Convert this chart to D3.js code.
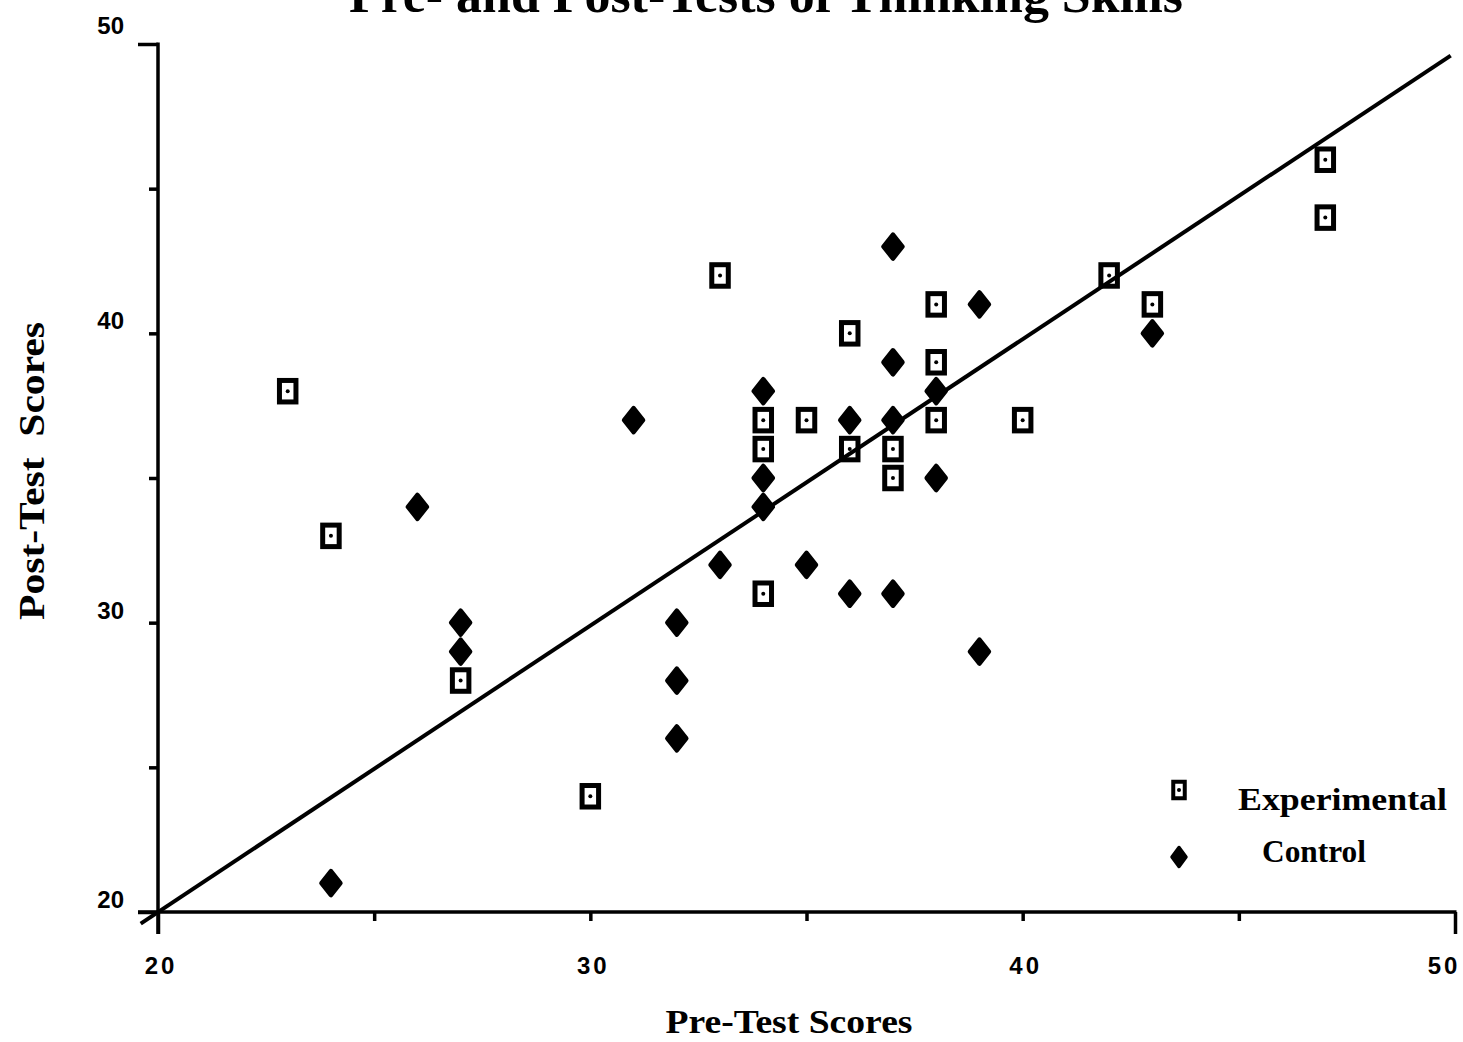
<!DOCTYPE html>
<html>
<head>
<meta charset="utf-8">
<script src="https://cdn.jsdelivr.net/npm/d3@7"></script>
<style>
body { margin: 0; background: #fff; }
text { fill: #000; }
.tick-label { font-family: "Liberation Sans", Arial, sans-serif; font-weight: bold; font-size: 24px; }
.serif { font-family: "Liberation Serif", "Times New Roman", serif; font-weight: bold; }
</style>
</head>
<body>
<div id="chart"></div>
<script>
// chart data
var experimentalPre  = [23, 24, 27, 30, 33, 34, 34, 34, 35, 36, 36, 37, 37, 38, 38, 38, 40, 42, 43, 47, 47];
var experimentalPost = [38, 33, 28, 24, 42, 37, 36, 31, 37, 40, 36, 36, 35, 41, 39, 37, 37, 42, 41, 46, 44];

var controlPre  = [24, 26, 27, 27, 31, 32, 32, 32, 33, 34, 34, 34, 35, 36, 36, 37, 37, 37, 37, 38, 38, 39, 39, 43];
var controlPost = [21, 34, 30, 29, 37, 30, 28, 26, 32, 38, 35, 34, 32, 37, 31, 43, 39, 37, 31, 38, 35, 41, 29, 40];

// fitted line ends (pre, post)
var lineX = [19.6, 49.9];
var lineY = [19.6, 49.6];

var tickValues = [20, 25, 30, 35, 40, 45, 50];
var labelValues = [20, 30, 40, 50];

var svgWidth = 1463;
var svgHeight = 1042;

var svg = d3.select("#chart")
    .append("svg")
    .attr("width", svgWidth)
    .attr("height", svgHeight);

var x = d3.scaleLinear().domain([20, 50]).range([158, 1455]);
var y = d3.scaleLinear().domain([20, 50]).range([912, 44]);

// title (cut at the top edge in the original)
svg.append("text")
    .attr("class", "serif")
    .attr("x", 766)
    .attr("y", 12)
    .attr("text-anchor", "middle")
    .attr("textLength", 834)
    .attr("lengthAdjust", "spacingAndGlyphs")
    .style("font-size", "50px")
    .text("Pre- and Post-Tests of Thinking Skills");

// axes
var xAxis = svg.append("g")
    .attr("transform", `translate(0, ${y(20)})`)
    .call(d3.axisBottom(x).tickValues(tickValues).tickSize(9).tickSizeOuter(0).tickFormat(""));

var yAxis = svg.append("g")
    .attr("transform", `translate(${x(20)}, 0)`)
    .call(d3.axisLeft(y).tickValues(tickValues).tickSize(9).tickSizeOuter(0).tickFormat(""));

xAxis.select(".domain").remove();
yAxis.select(".domain").remove();
xAxis.selectAll(".tick line").attr("stroke-width", 3.5)
    .attr("y2", d => (d === 20 || d === 50) ? 22 : 9);
yAxis.selectAll(".tick line").attr("stroke-width", 3.5)
    .attr("x2", d => (d === 20 || d === 50) ? -20 : -9);

// axis lines
svg.append("line")
    .attr("x1", x(20) - 20).attr("x2", x(50) + 1.5)
    .attr("y1", y(20)).attr("y2", y(20))
    .attr("stroke", "#000").attr("stroke-width", 3.5);
svg.append("line")
    .attr("x1", x(20)).attr("x2", x(20))
    .attr("y1", y(50) - 1.5).attr("y2", y(20) + 22)
    .attr("stroke", "#000").attr("stroke-width", 3.5);

// tick labels
svg.selectAll(".xlab")
    .data(labelValues)
    .enter()
    .append("text")
    .attr("class", "tick-label")
    .attr("x", d => x(d) + (d === 50 ? -11 : 3))
    .attr("y", 974)
    .attr("text-anchor", "middle")
    .style("letter-spacing", "3px")
    .text(d => d);

svg.selectAll(".ylab")
    .data(labelValues)
    .enter()
    .append("text")
    .attr("class", "tick-label")
    .attr("x", 124)
    .attr("y", d => y(d) - (d === 50 ? 10 : 4))
    .attr("text-anchor", "end")
    .text(d => d);

// axis titles
svg.append("text")
    .attr("class", "serif")
    .attr("x", 789)
    .attr("y", 1033)
    .attr("text-anchor", "middle")
    .attr("textLength", 247)
    .attr("lengthAdjust", "spacingAndGlyphs")
    .style("font-size", "34px")
    .text("Pre-Test Scores");

svg.append("text")
    .attr("class", "serif")
    .attr("transform", "translate(44, 471) rotate(-90)")
    .attr("text-anchor", "middle")
    .attr("textLength", 298)
    .attr("lengthAdjust", "spacingAndGlyphs")
    .style("font-size", "35px")
    .style("white-space", "pre")
    .text("Post-Test  Scores");

// markers
function drawSquare(g, cx, cy, w, h, sw) {
    g.append("rect")
        .attr("x", cx - w / 2).attr("y", cy - h / 2)
        .attr("width", w).attr("height", h)
        .attr("fill", "#fff").attr("stroke", "#000").attr("stroke-width", sw);
    g.append("circle")
        .attr("cx", cx).attr("cy", cy).attr("r", 2).attr("fill", "#000");
}

function diamondPath(w, h) {
    return `M0,${-h / 2}L${w / 2},0L0,${h / 2}L${-w / 2},0Z`;
}

var marks = svg.append("g");

controlPre.forEach(function(d, i) {
    marks.append("path")
        .attr("d", diamondPath(19, 24))
        .attr("transform", `translate(${x(d)}, ${y(controlPost[i])})`)
        .attr("fill", "#000").attr("stroke", "#000")
        .attr("stroke-width", 4.5).attr("stroke-linejoin", "round");
});

experimentalPre.forEach(function(d, i) {
    drawSquare(marks, x(d), y(experimentalPost[i]), 16.5, 21.5, 5);
});

// fitted line on top of markers
svg.append("line")
    .attr("x1", x(lineX[0])).attr("y1", y(lineY[0]))
    .attr("x2", x(lineX[1])).attr("y2", y(lineY[1]))
    .attr("stroke", "#000").attr("stroke-width", 4);

// legend
var legend = svg.append("g");
drawSquare(legend, 1179, 790, 11.5, 16.5, 4);
legend.append("path")
    .attr("d", diamondPath(14, 19))
    .attr("transform", "translate(1179, 857)")
    .attr("fill", "#000").attr("stroke", "#000")
    .attr("stroke-width", 3.5).attr("stroke-linejoin", "round");

legend.append("text")
    .attr("class", "serif")
    .attr("x", 1238).attr("y", 810)
    .attr("textLength", 209)
    .attr("lengthAdjust", "spacingAndGlyphs")
    .style("font-size", "31px")
    .text("Experimental");
legend.append("text")
    .attr("class", "serif")
    .attr("x", 1262).attr("y", 862)
    .attr("textLength", 104)
    .attr("lengthAdjust", "spacingAndGlyphs")
    .style("font-size", "31px")
    .text("Control");
</script>
</body>
</html>
